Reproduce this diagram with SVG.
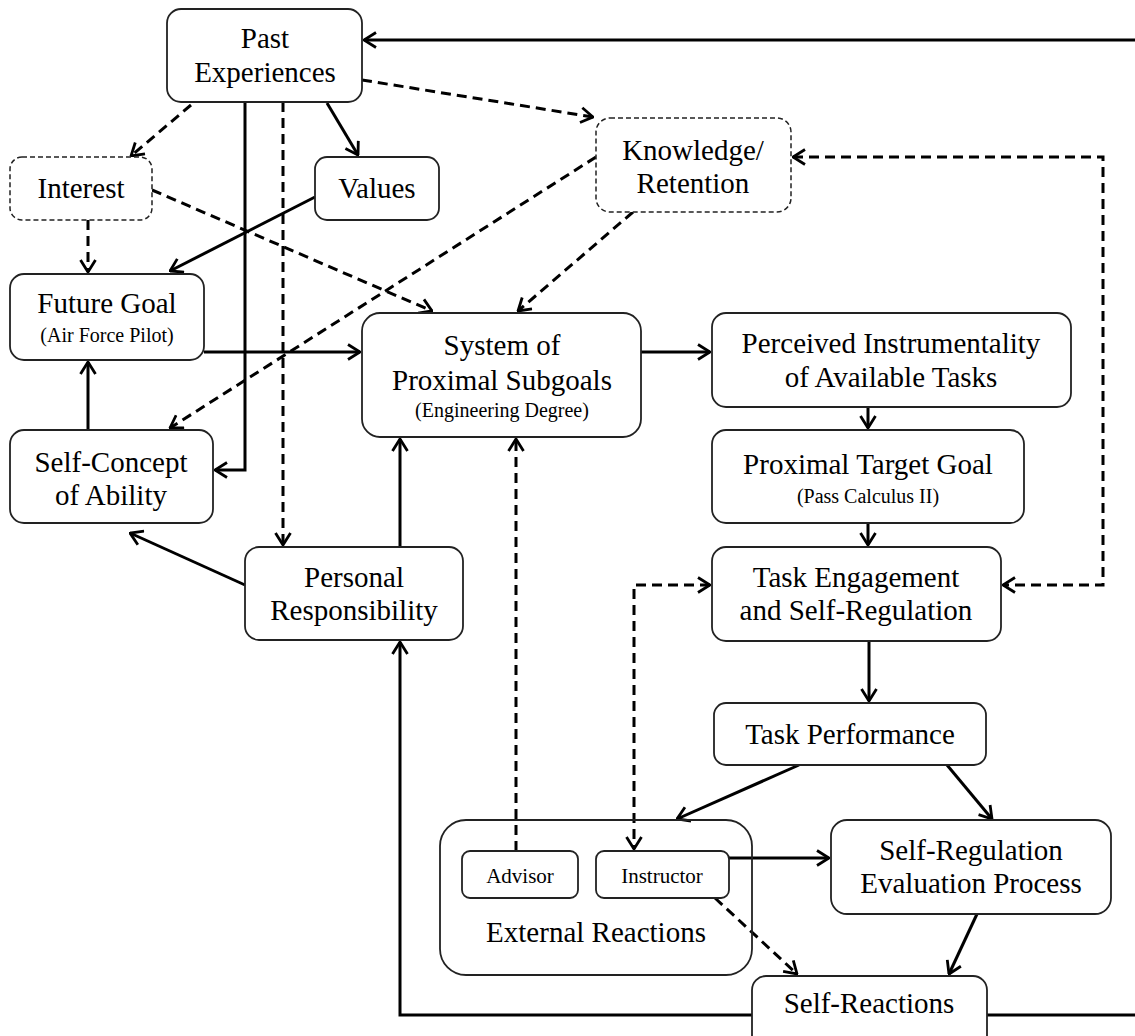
<svg xmlns="http://www.w3.org/2000/svg" width="1135" height="1036" viewBox="0 0 1135 1036">
<style>
.box{fill:#fff;stroke:#222;stroke-width:1.8}
.obox{fill:none;stroke:#222;stroke-width:1.8}
.dbox{fill:#fff;stroke:#222;stroke-width:1.5;stroke-dasharray:5 3}
.t{font-family:"Liberation Serif","Times New Roman",serif;font-size:29px;fill:#000;text-anchor:middle}
.s{font-family:"Liberation Serif","Times New Roman",serif;font-size:20px;fill:#000;text-anchor:middle}
.m{font-family:"Liberation Serif","Times New Roman",serif;font-size:21px;fill:#000;text-anchor:middle}
.c{fill:none;stroke:#000;stroke-width:3}
.d{fill:none;stroke:#000;stroke-width:3;stroke-dasharray:10 6}
.a{marker-end:url(#ah)}
.b{marker-start:url(#ah);marker-end:url(#ah)}
</style>
<defs>
<marker id="ah" viewBox="0 0 14 18" refX="13" refY="9" markerWidth="14" markerHeight="18" markerUnits="userSpaceOnUse" orient="auto-start-reverse">
<path d="M1,1.5 L13,9 L1,16.5" fill="none" stroke="#000" stroke-width="2.8" stroke-dasharray="none"/>
</marker>
</defs>
<rect width="1135" height="1036" fill="#fff"/>
<g id="connectors">
<path class="c a" d="M987,1015 L1145,1015 L1145,40 L364,40"/>
<path class="c a" d="M752,1015 L400,1015 L400,642"/>
<path class="d a" d="M191,105 L131,156"/>
<path class="c a" d="M245,102 L245,470 L215,470"/>
<path class="d a" d="M283,102 L283,545"/>
<path class="c a" d="M327,103 L358,155"/>
<path class="d a" d="M362,80 L593,117"/>
<path class="d a" d="M88,220 L88,272"/>
<path class="d a" d="M152,190 L432,311"/>
<path class="c a" d="M315,197 L170,271"/>
<path class="d a" d="M596,157 L170,428"/>
<path class="d a" d="M633,212 L518,311"/>
<path class="c a" d="M204,352 L360,352"/>
<path class="c a" d="M88,430 L88,362"/>
<path class="c a" d="M245,585 L130,533"/>
<path class="c a" d="M400,547 L400,439"/>
<path class="c a" d="M641,352 L710,352"/>
<path class="c a" d="M868,407 L868,428"/>
<path class="c a" d="M868,523 L868,545"/>
<path class="c a" d="M869,641 L869,701"/>
<path class="d b" d="M793,157 L1103,157 L1103,585 L1003,585"/>
<path class="d b" d="M710,585 L634,585 L634,849"/>
<path class="d a" d="M516,851 L516,439"/>
<path class="c a" d="M799,765 L677,819"/>
<path class="c a" d="M947,765 L992,819"/>
<path class="c a" d="M729,858 L829,858"/>
<path class="d a" d="M715,898 L797,974"/>
<path class="c a" d="M977,914 L949,974"/>
</g>
<g id="past-experiences"><rect class="box" x="167" y="9" width="195" height="93" rx="14"/><text class="t" x="265" y="48">Past</text><text class="t" x="265" y="82">Experiences</text></g>
<g id="interest"><rect class="dbox" x="10" y="157" width="142" height="63" rx="12"/><text class="t" x="81" y="198">Interest</text></g>
<g id="values"><rect class="box" x="315" y="157" width="124" height="63" rx="12"/><text class="t" x="377" y="198">Values</text></g>
<g id="knowledge-retention"><rect class="dbox" x="596" y="118" width="195" height="94" rx="14"/><text class="t" x="693" y="160">Knowledge/</text><text class="t" x="693" y="193">Retention</text></g>
<g id="future-goal"><rect class="box" x="10" y="274" width="194" height="86" rx="14"/><text class="t" x="107" y="313">Future Goal</text><text class="s" x="107" y="342">(Air Force Pilot)</text></g>
<g id="system-subgoals"><rect class="box" x="362" y="313" width="279" height="124" rx="18"/><text class="t" x="502" y="355">System of</text><text class="t" x="502" y="390">Proximal Subgoals</text><text class="s" x="502" y="417">(Engineering Degree)</text></g>
<g id="perceived-instrumentality"><rect class="box" x="712" y="313" width="359" height="94" rx="14"/><text class="t" x="891" y="353">Perceived Instrumentality</text><text class="t" x="891" y="387">of Available Tasks</text></g>
<g id="self-concept"><rect class="box" x="10" y="430" width="203" height="93" rx="14"/><text class="t" x="111" y="472">Self-Concept</text><text class="t" x="111" y="505">of Ability</text></g>
<g id="proximal-target-goal"><rect class="box" x="712" y="430" width="312" height="93" rx="14"/><text class="t" x="868" y="474">Proximal Target Goal</text><text class="s" x="868" y="503">(Pass Calculus II)</text></g>
<g id="personal-responsibility"><rect class="box" x="245" y="547" width="218" height="93" rx="14"/><text class="t" x="354" y="587">Personal</text><text class="t" x="354" y="620">Responsibility</text></g>
<g id="task-engagement"><rect class="box" x="712" y="547" width="289" height="94" rx="14"/><text class="t" x="856" y="587">Task Engagement</text><text class="t" x="856" y="620">and Self-Regulation</text></g>
<g id="task-performance"><rect class="box" x="714" y="703" width="272" height="62" rx="12"/><text class="t" x="850" y="744">Task Performance</text></g>
<g id="external-reactions"><rect class="obox" x="440" y="820" width="312" height="155" rx="26"/><text class="t" x="596" y="942">External Reactions</text></g>
<g id="advisor"><rect class="box" x="462" y="851" width="116" height="47" rx="8"/><text class="m" x="520" y="883">Advisor</text></g>
<g id="instructor"><rect class="box" x="596" y="851" width="133" height="47" rx="8"/><text class="m" x="662" y="883">Instructor</text></g>
<g id="self-regulation-evaluation"><rect class="box" x="831" y="820" width="280" height="94" rx="16"/><text class="t" x="971" y="860">Self-Regulation</text><text class="t" x="971" y="893">Evaluation Process</text></g>
<g id="self-reactions"><rect class="box" x="752" y="976" width="235" height="75" rx="14"/><text class="t" x="869" y="1013">Self-Reactions</text></g>
</svg>
